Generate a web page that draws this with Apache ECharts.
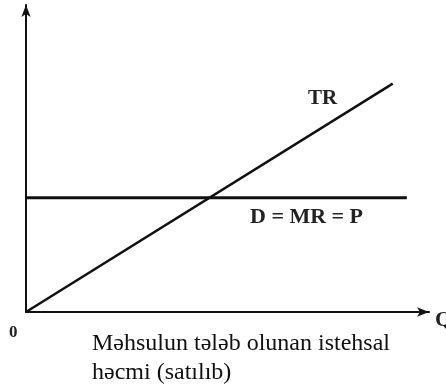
<!DOCTYPE html>
<html>
<head>
<meta charset="utf-8">
<script src="https://cdn.jsdelivr.net/npm/echarts@6/dist/echarts.min.js"></script>
<style>
  html, body { margin: 0; padding: 0; background: #fff; }
  #chart { width: 446px; height: 384px; }
</style>
</head>
<body>
<div id="chart"></div>
<script>
// quantity (x) and revenue/price (y), in arbitrary units
const trLine = [[0, 0], [91, 74.4]];
const priceLine = [[0, 37.2], [94.5, 37.2]];
const axisMax = 100;

const labelTR = 'TR';
const labelPrice = 'D = MR = P';
const labelOrigin = '0';
const labelQ = 'Q';
const caption = 'Məhsulun tələb olunan istehsal\nhəcmi (satılıb)';

const chart = echarts.init(document.getElementById('chart'));

const serif = '"Liberation Serif", "DejaVu Serif", serif';

chart.setOption({
  backgroundColor: '#fff',
  animation: false,
  grid: { left: 26, top: 5, width: 403, height: 307, outerBoundsMode: 'none', containLabel: false },
  xAxis: {
    type: 'value',
    min: 0,
    max: axisMax,
    name: labelQ,
    nameLocation: 'end',
    nameGap: 6,
    nameTextStyle: {
      fontFamily: serif, fontSize: 22, fontWeight: 'bold', color: '#222',
      verticalAlign: 'top', padding: [-3, 0, 0, 0]
    },
    splitLine: { show: false },
    axisTick: { show: false },
    axisLabel: { show: false },
    axisLine: {
      lineStyle: { color: '#111', width: 2 },
      symbol: ['none', 'arrow'],
      symbolSize: [7, 12]
    }
  },
  yAxis: {
    type: 'value',
    min: 0,
    max: axisMax,
    splitLine: { show: false },
    axisTick: { show: false },
    axisLabel: { show: false },
    axisLine: {
      lineStyle: { color: '#111', width: 2 },
      symbol: ['none', 'arrow'],
      symbolSize: [7, 12]
    }
  },
  series: [
    {
      name: 'TR',
      type: 'line',
      data: trLine,
      symbol: 'none',
      lineStyle: { color: '#111', width: 2.5 }
    },
    {
      name: 'D = MR = P',
      type: 'line',
      data: priceLine,
      symbol: 'none',
      lineStyle: { color: '#111', width: 3 }
    }
  ],
  graphic: [
    {
      type: 'text', left: 308, top: 88,
      style: { text: labelTR, font: 'bold 21px ' + serif, fill: '#222' }
    },
    {
      type: 'text', left: 250, top: 206,
      style: { text: labelPrice, font: 'bold 22px ' + serif, fill: '#222' }
    },
    {
      type: 'text', left: 9, top: 324,
      style: { text: labelOrigin, font: 'bold 17px ' + serif, fill: '#222' }
    },
    {
      type: 'text', left: 92, top: 329,
      style: { text: caption, font: '24px ' + serif, lineHeight: 29, fill: '#111' }
    }
  ]
});
</script>
</body>
</html>
